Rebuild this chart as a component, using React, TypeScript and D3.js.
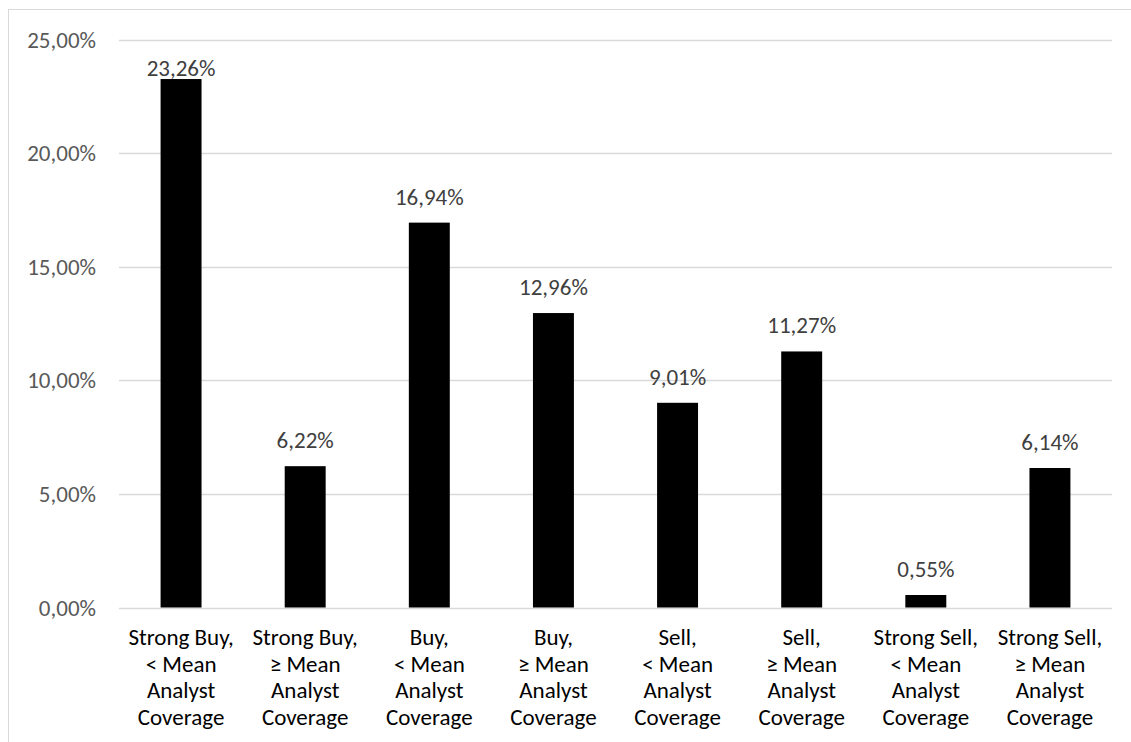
import React from "react";
import * as d3 from "d3";

const categories: string[][] = [
  ["Strong Buy,", "< Mean", "Analyst", "Coverage"],
  ["Strong Buy,", "≥ Mean", "Analyst", "Coverage"],
  ["Buy,", "< Mean", "Analyst", "Coverage"],
  ["Buy,", "≥ Mean", "Analyst", "Coverage"],
  ["Sell,", "< Mean", "Analyst", "Coverage"],
  ["Sell,", "≥ Mean", "Analyst", "Coverage"],
  ["Strong Sell,", "< Mean", "Analyst", "Coverage"],
  ["Strong Sell,", "≥ Mean", "Analyst", "Coverage"],
];
const values: number[] = [23.26, 6.22, 16.94, 12.96, 9.01, 11.27, 0.55, 6.14];
const yTicks: number[] = [0, 5, 10, 15, 20, 25];

const W = 1131;
const H = 742;
const FONT = "Carlito, Calibri, 'Open Sans', sans-serif";
const FS = 23;

const fmt = (v: number) => v.toFixed(2).replace(".", ",") + "%";

export default function App() {
  const left = 119;
  const right = 1112;
  const top = 39.5;
  const bottom = 607.5;

  const x = d3
    .scaleBand<number>()
    .domain(d3.range(values.length))
    .range([left, right])
    .paddingInner(0.67)
    .paddingOuter(0.335);
  const y = d3.scaleLinear().domain([0, 25]).range([bottom, top]);

  // data labels sit above the bar, but never above the top of the plot area
  const labelY = (v: number) => Math.max(y(v) - 18, top + 36);

  return (
    <div style={{ position: "absolute", left: 0, top: 0 }}>
      <svg width={W} height={H} style={{ display: "block", fontFamily: FONT }}>
        <rect x={0} y={0} width={W} height={H} fill="#fff" />
        <rect x={8.5} y={9.5} width={W + 20} height={H + 20} fill="none" stroke="#d9d9d9" strokeWidth={1} />
        {yTicks.map((t) => (
          <g key={t}>
            <line x1={left} x2={right} y1={Math.round(y(t)) + 0.5} y2={Math.round(y(t)) + 0.5} stroke="#d9d9d9" strokeWidth={1.3} />
            <text x={96} y={y(t)} dy="0.35em" textAnchor="end" fontSize={FS} fill="#595959">
              {fmt(t)}
            </text>
          </g>
        ))}
        {values.map((v, i) => (
          <g key={i}>
            <rect x={x(i)} y={y(v)} width={x.bandwidth()} height={bottom - y(v)} fill="#000" />
            <text x={(x(i) as number) + x.bandwidth() / 2} y={labelY(v)} textAnchor="middle" fontSize={FS} fill="#404040">
              {fmt(v)}
            </text>
          </g>
        ))}
        {categories.map((lines, i) => (
          <text key={i} textAnchor="middle" fontSize={FS} fill="#000">
            {lines.map((ln, j) => (
              <tspan key={j} x={(x(i) as number) + x.bandwidth() / 2} y={645 + j * 26.7}>
                {ln}
              </tspan>
            ))}
          </text>
        ))}
      </svg>
    </div>
  );
}
